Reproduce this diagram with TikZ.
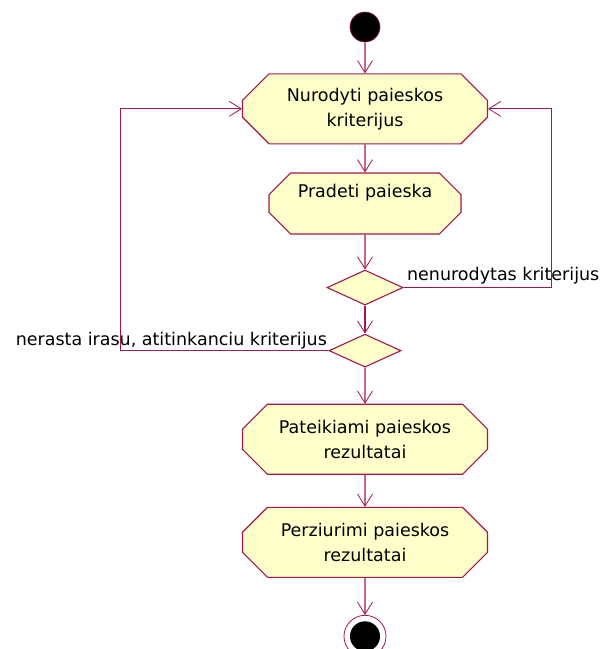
\documentclass[tikz,border=0pt]{standalone}
\usepackage{fontspec}
\setmainfont{DejaVu Sans}
\usepackage{tikz}
\usetikzlibrary{shapes.misc, shapes.geometric, arrows.meta, positioning}
\definecolor{linijaRose}{HTML}{A3174B}
\definecolor{geltonaRose}{HTML}{FFFFCC}

\begin{document}
\begin{tikzpicture}[
    x=1pt, y=1pt,
    node distance=32pt,
    veikla/.style={chamfered rectangle, chamfered rectangle xsep=23pt, draw=linijaRose, fill=geltonaRose, line width=1.1pt, minimum width=245pt, minimum height=70pt, align=center, inner sep=2pt, text=black, font=\fontsize{17.5}{25}\selectfont},
    sprendimas/.style={diamond, draw=linijaRose, fill=geltonaRose, line width=1.1pt, minimum width=76pt, minimum height=35pt, inner sep=0pt},
    pradzia/.style={circle, fill=black, draw=linijaRose, line width=0.6pt, minimum size=30pt, inner sep=0pt},
    pabaiga/.style={circle, draw=linijaRose, fill=white, line width=0.8pt, minimum size=42pt, inner sep=0pt, path picture={\fill[black] (path picture bounding box.center) circle (15pt);}},
    perejimas/.style={-{Straight Barb[length=12pt, width=15pt, line width=0.8pt]}, line width=1.1pt, linijaRose},
    zyme/.style={text=black, font=\fontsize{17.5}{21}\selectfont, inner sep=3pt}
]
    \useasboundingbox (0,0) rectangle (605,-649);

    \node[pradzia] (start) at (365,-27) {};
    \node[veikla, below=31pt of start] (nurodyti) {Nurodyti paieskos\\kriterijus};
    \node[veikla, below=28pt of nurodyti, minimum width=192pt, minimum height=61pt, chamfered rectangle xsep=18pt] (pradeti) {Pradeti paieska\\\mbox{}};
    \node[sprendimas, below=35pt of pradeti] (tikrinti) {};
    \node[sprendimas, below=28pt of tikrinti, minimum width=72pt, minimum height=33pt] (rasta) {};
    \node[veikla, below=36pt of rasta] (pateikiami) {Pateikiami paieskos\\rezultatai};
    \node[veikla, below=of pateikiami] (perziurimi) {Perziurimi paieskos\\rezultatai};
    \node[pabaiga, below=37pt of perziurimi] (pabaiga) {};

    \draw[perejimas] (start) -- (nurodyti);
    \draw[perejimas] (nurodyti) -- (pradeti);
    \draw[perejimas] (pradeti) -- (tikrinti);
    \draw[perejimas] (tikrinti) -- (rasta);
    \draw[perejimas] (rasta) -- (pateikiami);
    \draw[perejimas] (pateikiami) -- (perziurimi);
    \draw[perejimas] (perziurimi) -- (pabaiga);

    % grizimas, kai kriterijus nenurodytas
    \draw[perejimas] (tikrinti.east) node[zyme, above right] {nenurodytas kriterijus}
        -- ++(148,0) |- (nurodyti.east);
    % grizimas, kai irasu nerasta
    \draw[perejimas] (rasta.west) node[zyme, above left, inner sep=1pt] {nerasta irasu, atitinkanciu kriterijus}
        -- ++(-208,0) |- (nurodyti.west);
\end{tikzpicture}
\end{document}
